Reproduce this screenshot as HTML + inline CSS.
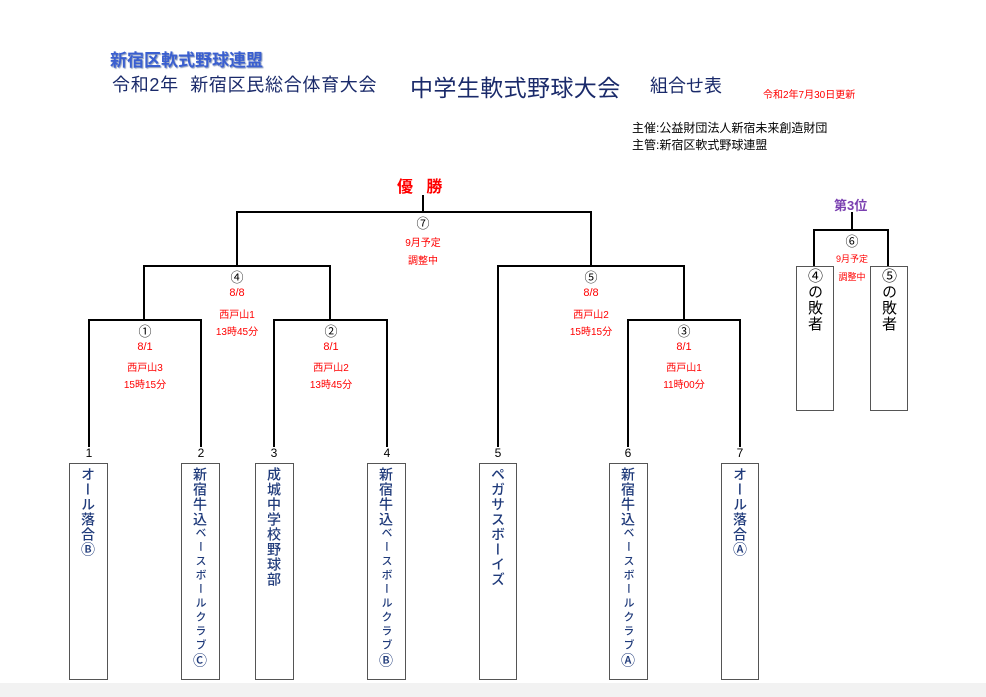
<!DOCTYPE html>
<html><head><meta charset="utf-8">
<style>
body{margin:0;width:986px;height:697px;background:#fff;position:relative;overflow:hidden;font-family:"Liberation Sans","Noto Sans CJK JP",sans-serif;}
.a{position:absolute;white-space:nowrap;}
.l{position:absolute;background:#000;}
.box{position:absolute;border:1px solid #555;box-sizing:border-box;}
.vt{position:absolute;writing-mode:vertical-rl;color:#1f3a7a;font-size:14px;font-weight:500;letter-spacing:1px;line-height:1;}
.k{font-size:11px;letter-spacing:3px;}
.r{color:#f00;font-size:10px;text-align:center;position:absolute;width:100px;}
.c{position:absolute;width:40px;text-align:center;font-size:13px;}
.n{position:absolute;width:20px;text-align:center;font-size:12px;}
</style></head><body>
<div style="position:absolute;left:0;top:683px;width:986px;height:14px;background:#f2f2f2"></div>
<div class="a" style="left:110px;top:46px;font-size:17px;font-weight:bold;color:#3a5fd0;text-shadow:1px 1px 1px #8899bb">新宿区軟式野球連盟</div>
<div class="a" style="left:112px;top:71px;font-size:18px;color:#1a2a6a;letter-spacing:0.7px">令和2年&nbsp;&nbsp;新宿区民総合体育大会</div>
<div class="a" style="left:410px;top:69px;font-size:23px;color:#1a2a6a;letter-spacing:0.4px">中学生軟式野球大会</div>
<div class="a" style="left:650px;top:72px;font-size:18px;color:#1a2a6a">組合せ表</div>
<div class="a" style="left:763px;top:86px;font-size:10px;color:#f00">令和2年7月30日更新</div>
<div class="a" style="left:632px;top:119px;font-size:12px">主催:公益財団法人新宿未来創造財団</div>
<div class="a" style="left:632px;top:136px;font-size:12px">主管:新宿区軟式野球連盟</div>
<div class="a" style="left:397px;top:173px;font-size:16px;font-weight:bold;color:#f00">優&nbsp;&nbsp;&nbsp;勝</div>
<div class="a" style="left:834px;top:195px;font-size:13px;font-weight:bold;color:#7a3fb0">第3位</div>

<div class="l" style="left:422px;top:195px;width:2px;height:18px"></div>
<div class="l" style="left:236px;top:211px;width:356px;height:2px"></div>
<div class="l" style="left:236px;top:211px;width:2px;height:56px"></div>
<div class="l" style="left:590px;top:211px;width:2px;height:56px"></div>
<div class="l" style="left:143px;top:265px;width:188px;height:2px"></div>
<div class="l" style="left:143px;top:265px;width:2px;height:56px"></div>
<div class="l" style="left:329px;top:265px;width:2px;height:56px"></div>
<div class="l" style="left:497px;top:265px;width:188px;height:2px"></div>
<div class="l" style="left:497px;top:265px;width:2px;height:182px"></div>
<div class="l" style="left:683px;top:265px;width:2px;height:56px"></div>
<div class="l" style="left:88px;top:319px;width:114px;height:2px"></div>
<div class="l" style="left:88px;top:319px;width:2px;height:128px"></div>
<div class="l" style="left:200px;top:319px;width:2px;height:128px"></div>
<div class="l" style="left:273px;top:319px;width:115px;height:2px"></div>
<div class="l" style="left:273px;top:319px;width:2px;height:128px"></div>
<div class="l" style="left:386px;top:319px;width:2px;height:128px"></div>
<div class="l" style="left:627px;top:319px;width:114px;height:2px"></div>
<div class="l" style="left:627px;top:319px;width:2px;height:128px"></div>
<div class="l" style="left:739px;top:319px;width:2px;height:128px"></div>
<div class="l" style="left:851px;top:212px;width:2px;height:18px"></div>
<div class="l" style="left:813px;top:229px;width:76px;height:2px"></div>
<div class="l" style="left:813px;top:229px;width:2px;height:38px"></div>
<div class="l" style="left:887px;top:229px;width:2px;height:38px"></div>

<div class="c" style="left:403px;top:213px">⑦</div>
<div class="r" style="left:373px;top:234px">9月予定</div>
<div class="r" style="left:373px;top:252px">調整中</div>
<div class="c" style="left:217px;top:267px">④</div>
<div class="r" style="left:187px;top:287px;font-size:11px">8/8</div>
<div class="r" style="left:187px;top:306px">西戸山1</div>
<div class="r" style="left:187px;top:323px">13時45分</div>
<div class="c" style="left:571px;top:267px">⑤</div>
<div class="r" style="left:541px;top:287px;font-size:11px">8/8</div>
<div class="r" style="left:541px;top:306px">西戸山2</div>
<div class="r" style="left:541px;top:323px">15時15分</div>
<div class="c" style="left:125px;top:321px">①</div>
<div class="r" style="left:95px;top:341px;font-size:11px">8/1</div>
<div class="r" style="left:95px;top:359px">西戸山3</div>
<div class="r" style="left:95px;top:376px">15時15分</div>
<div class="c" style="left:311px;top:321px">②</div>
<div class="r" style="left:281px;top:341px;font-size:11px">8/1</div>
<div class="r" style="left:281px;top:359px">西戸山2</div>
<div class="r" style="left:281px;top:376px">13時45分</div>
<div class="c" style="left:664px;top:321px">③</div>
<div class="r" style="left:634px;top:341px;font-size:11px">8/1</div>
<div class="r" style="left:634px;top:359px">西戸山1</div>
<div class="r" style="left:634px;top:376px">11時00分</div>
<div class="c" style="left:832px;top:231px">⑥</div>
<div class="r" style="left:802px;top:252px;font-size:9px">9月予定</div>
<div class="r" style="left:802px;top:270px;font-size:9px">調整中</div>

<div class="n" style="left:79px;top:446px">1</div>
<div class="n" style="left:191px;top:446px">2</div>
<div class="n" style="left:264px;top:446px">3</div>
<div class="n" style="left:377px;top:446px">4</div>
<div class="n" style="left:488px;top:446px">5</div>
<div class="n" style="left:618px;top:446px">6</div>
<div class="n" style="left:730px;top:446px">7</div>

<div class="box" style="left:69px;top:463px;width:39px;height:217px"></div>
<div class="vt" style="left:81px;top:467px">オール落合Ⓑ</div>
<div class="box" style="left:181px;top:463px;width:39px;height:217px"></div>
<div class="vt" style="left:193px;top:467px">新宿牛込<span class="k">ベースボールクラブ</span>Ⓒ</div>
<div class="box" style="left:255px;top:463px;width:39px;height:217px"></div>
<div class="vt" style="left:267px;top:467px">成城中学校野球部</div>
<div class="box" style="left:367px;top:463px;width:39px;height:217px"></div>
<div class="vt" style="left:379px;top:467px">新宿牛込<span class="k">ベースボールクラブ</span>Ⓑ</div>
<div class="box" style="left:479px;top:463px;width:38px;height:217px"></div>
<div class="vt" style="left:491px;top:467px">ペガサスボーイズ</div>
<div class="box" style="left:609px;top:463px;width:39px;height:217px"></div>
<div class="vt" style="left:621px;top:467px">新宿牛込<span class="k">ベースボールクラブ</span>Ⓐ</div>
<div class="box" style="left:721px;top:463px;width:38px;height:217px"></div>
<div class="vt" style="left:733px;top:467px">オール落合Ⓐ</div>

<div class="box" style="left:796px;top:266px;width:38px;height:145px"></div>
<div class="vt" style="left:807px;top:268px;color:#000;font-weight:normal;font-size:15px;letter-spacing:1px">④の敗者</div>
<div class="box" style="left:870px;top:266px;width:38px;height:145px"></div>
<div class="vt" style="left:881px;top:268px;color:#000;font-weight:normal;font-size:15px;letter-spacing:1px">⑤の敗者</div>
</body></html>
